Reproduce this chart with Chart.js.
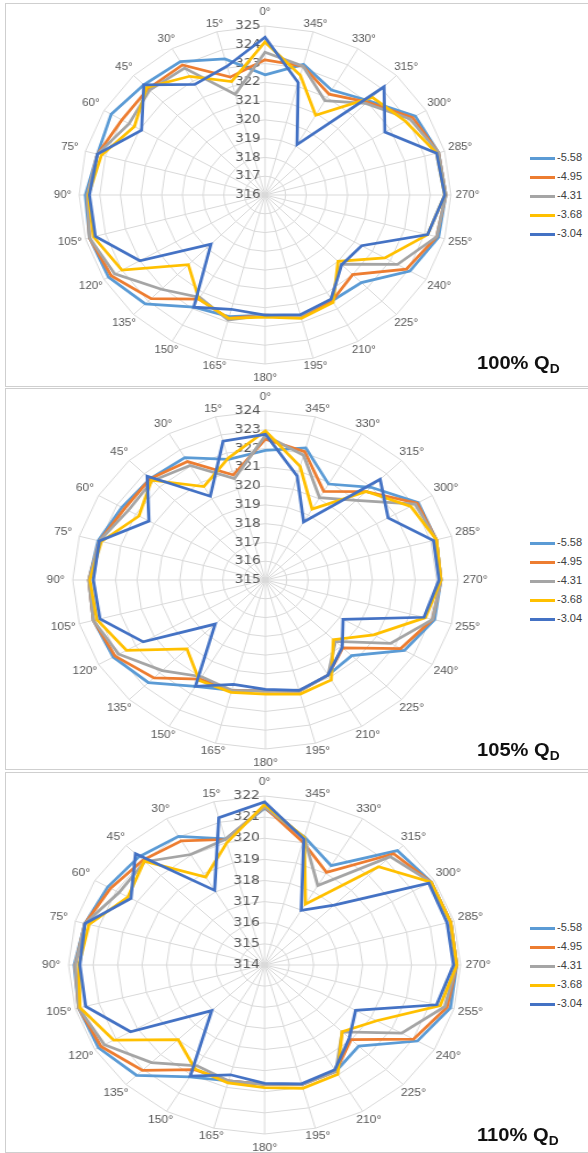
<!DOCTYPE html>
<html>
<head>
<meta charset="utf-8">
<script src="https://cdn.jsdelivr.net/npm/chart.js@4.4.1/dist/chart.umd.min.js"></script>
<style>
  html, body { margin: 0; padding: 0; background: #fff; }
  body { width: 588px; height: 1153px; position: relative; overflow: hidden; font-family: "Liberation Sans", Arial, sans-serif; }
  .panel { position: absolute; left: 5px; width: 600px; border: 1px solid #cfcfcf; box-sizing: border-box; }
  canvas.radar { position: absolute; transform-origin: 0 0; }
  .legend { position: absolute; left: 530px; font-size: 11px; color: #404040; }
  .legend div { height: 19px; line-height: 19px; white-space: nowrap; }
  .legend span.sw { display: inline-block; width: 25px; height: 3px; vertical-align: middle; margin-right: 2px; }
  .qd { position: absolute; left: 477px; font-size: 19px; font-weight: bold; color: #111; white-space: nowrap;
        transform: scaleX(1.06); transform-origin: 0 0; }
  .qd sub { font-size: 13px; vertical-align: -4px; }
</style>
</head>
<body>
<div class="panel" style="top:3px;height:384px"></div>
<div class="panel" style="top:388px;height:382px"></div>
<div class="panel" style="top:772px;height:381px"></div>

<script>
// angle categories, clockwise from the top as the radar draws them
const angleLabels = ['0°', '345°', '330°', '315°', '300°', '285°', '270°', '255°', '240°', '225°', '210°', '195°',
  '180°', '165°', '150°', '135°', '120°', '105°', '90°', '75°', '60°', '45°', '30°', '15°'];

const seriesNames = ['-5.58', '-4.95', '-4.31', '-3.68', '-3.04'];
const seriesColors = ['#5B9BD5', '#ED7D31', '#A5A5A5', '#FFC000', '#4472C4'];

const panelTitles = ['100%', '105%', '110%'];
const scaleMin = [316, 315, 314];
const scaleMax = [325, 324, 322];
const panelCenterY = [195, 580, 965];
const panelStretch = [1.1, 1.14, 1.16];   // the source image is wider than tall

// 100% QD
const q100_558 = [322.4, 323.2, 322.45, 323.1, 324.4, 324.7, 324.75, 324.7, 324.1, 322.6, 322.5, 322.7,
  322.4, 322.7, 322.9, 324.2, 324.75, 324.8, 324.7, 324.4, 324.6, 324.3, 324.2, 323.5];
const q100_495 = [323.2, 323.1, 322.2, 323.0, 324.25, 324.7, 324.75, 324.6, 323.9, 322.0, 322.5, 322.7,
  322.4, 322.8, 322.4, 323.8, 324.6, 324.8, 324.6, 324.4, 324.0, 324.0, 324.0, 322.5];
const q100_431 = [323.6, 323.1, 321.8, 322.9, 324.1, 324.7, 324.75, 324.6, 323.4, 321.2, 322.4, 322.65,
  322.4, 322.9, 322.3, 323.1, 324.4, 324.8, 324.6, 324.4, 323.6, 323.9, 323.8, 321.55];
const q100_368 = [324.15, 322.6, 320.9, 323.35, 323.85, 324.6, 324.7, 324.15, 322.7, 321.0, 322.6, 322.8,
  322.5, 322.8, 322.4, 321.25, 324.0, 324.6, 324.55, 324.2, 323.3, 324.1, 323.3, 322.25];
const q100_304 = [324.4, 322.2, 319.1, 324.15, 322.7, 324.6, 324.7, 324.15, 321.4, 321.25, 322.4, 322.6,
  322.4, 322.3, 322.9, 319.7, 323.0, 324.5, 324.5, 324.4, 322.9, 324.3, 322.8, 323.1];

// 105% QD
const q105_558 = [321.9, 322.28, 320.9, 321.98, 323.24, 323.27, 323.2, 323.18, 322.5, 320.7, 320.85, 321.13,
  320.9, 321.09, 321.54, 322.73, 323.21, 323.32, 323.25, 323.09, 322.74, 322.62, 322.53, 321.65];
const q105_495 = [322.5, 322.08, 320.45, 321.65, 323.18, 323.27, 323.2, 323.09, 322.3, 320.11, 320.85, 321.13,
  320.9, 321.09, 321.1, 322.37, 323.11, 323.32, 323.25, 323.03, 322.6, 322.62, 322.28, 320.79];
const q105_431 = [322.7, 321.88, 320.06, 320.99, 323.08, 323.27, 323.2, 323.09, 321.75, 319.62, 320.85, 321.13,
  320.9, 321.09, 320.95, 321.82, 322.91, 323.32, 323.25, 323.03, 322.4, 322.47, 322.04, 320.59];
const q105_368 = [322.94, 321.26, 319.36, 321.67, 322.84, 323.27, 323.2, 322.74, 320.84, 319.49, 321.15, 321.29,
  321.08, 321.19, 321.18, 320.19, 322.49, 323.15, 323.2, 322.93, 321.82, 322.52, 320.75, 321.72];
const q105_304 = [322.76, 320.73, 318.57, 322.58, 321.62, 323.13, 323.11, 322.67, 319.19, 320.07, 320.85, 321.09,
  320.82, 320.75, 321.54, 318.32, 321.59, 323.0, 323.04, 323.03, 321.28, 322.81, 320.15, 322.65];

// 110% QD
const q110_558 = [321.42, 320.28, 319.43, 321.66, 321.85, 321.86, 321.84, 321.85, 321.2, 319.43, 319.81, 319.86,
  319.65, 319.68, 320.12, 321.39, 321.83, 321.86, 321.77, 321.59, 321.39, 321.25, 321.03, 320.18];
const q110_495 = [321.48, 320.03, 319.06, 321.45, 321.84, 321.86, 321.84, 321.71, 321.02, 318.99, 319.81, 319.86,
  319.65, 319.68, 319.72, 321.05, 321.71, 321.86, 321.73, 321.59, 321.26, 321.02, 320.79, 320.15];
const q110_431 = [321.48, 320.25, 318.34, 321.25, 321.84, 321.86, 321.84, 321.61, 320.46, 318.48, 319.81, 319.86,
  319.65, 319.68, 319.51, 320.53, 321.55, 321.86, 321.73, 321.59, 320.86, 320.92, 320.04, 320.16];
const q110_368 = [321.6, 320.25, 317.33, 320.58, 321.84, 321.86, 321.84, 321.42, 319.28, 318.47, 319.97, 320.04,
  319.8, 319.78, 319.68, 318.99, 321.11, 321.8, 321.58, 321.42, 320.44, 320.95, 318.81, 319.98];
const q110_304 = [321.72, 320.18, 316.99, 318.01, 321.74, 321.71, 321.71, 321.27, 318.29, 318.89, 319.73, 319.82,
  319.6, 319.38, 320.07, 317.05, 320.32, 321.56, 321.54, 321.59, 320.3, 321.45, 318.08, 321.22];

const panelSeries = [
  [q100_558, q100_495, q100_431, q100_368, q100_304],
  [q105_558, q105_495, q105_431, q105_368, q105_304],
  [q110_558, q110_495, q110_431, q110_368, q110_304]
];

const FONT = '"Liberation Sans", Arial, sans-serif';
const CW = 420, CH = 382, PAD = 22;

// tick values drawn right-aligned beside the vertical axis, including the centre value
const tickLabels = {
  id: 'tickLabels',
  beforeDatasetsDraw(chart) {
    const s = chart.scales.r;
    const ctx = chart.ctx;
    ctx.save();
    ctx.font = '12px "DejaVu Sans", sans-serif';
    ctx.fillStyle = '#595959';
    ctx.textAlign = 'right';
    ctx.textBaseline = 'middle';
    s.ticks.forEach(t => {
      const d = s.getDistanceFromCenterForValue(t.value);
      ctx.fillText(t.label, s.xCenter - 4, s.yCenter - d);
    });
    ctx.restore();
  }
};

// angle names centred on a ring just outside the outer grid line (Excel style)
const angleText = {
  id: 'angleText',
  beforeDatasetsDraw(chart) {
    const s = chart.scales.r;
    const ctx = chart.ctx;
    ctx.save();
    ctx.font = '10.5px ' + FONT;
    ctx.fillStyle = '#595959';
    ctx.textAlign = 'center';
    ctx.textBaseline = 'middle';
    chart.data.labels.forEach((lab, i) => {
      const deg = parseInt(lab, 10);
      let off = 6 + 9 * Math.abs(Math.sin(deg * Math.PI / 180));
      if (deg % 180 === 0) off = 14;
      const pos = s.getPointPosition(i, s.drawingArea + off);
      ctx.fillText(lab, pos.x, pos.y);
    });
    ctx.restore();
  }
};

for (let p = 0; p < 3; p++) {
  const cy = panelCenterY[p];
  const k = panelStretch[p];
  const canvas = document.createElement('canvas');
  canvas.className = 'radar';
  canvas.width = CW;
  canvas.height = CH;
  canvas.style.width = CW + 'px';
  canvas.style.height = CH + 'px';
  canvas.style.left = (265 - k * CW / 2) + 'px';
  canvas.style.top = (cy - CH / 2) + 'px';
  canvas.style.transform = 'scaleX(' + k + ')';
  document.body.appendChild(canvas);

  const datasets = panelSeries[p].map((vals, i) => ({
    label: seriesNames[i],
    data: vals,
    borderColor: seriesColors[i],
    backgroundColor: seriesColors[i],
    borderWidth: 2.75,
    pointRadius: 0,
    fill: false,
    order: seriesNames.length - i
  }));

  new Chart(canvas.getContext('2d'), {
    type: 'radar',
    data: { labels: angleLabels, datasets: datasets },
    options: {
      responsive: false,
      animation: false,
      layout: { padding: PAD },
      plugins: { legend: { display: false }, tooltip: { enabled: false } },
      scales: {
        r: {
          min: scaleMin[p],
          max: scaleMax[p],
          ticks: { stepSize: 1, display: false },
          grid: { color: '#d9d9d9', circular: false },
          angleLines: { color: '#d9d9d9' },
          pointLabels: { display: false }
        }
      }
    },
    plugins: [tickLabels, angleText]
  });

  const legend = document.createElement('div');
  legend.className = 'legend';
  legend.style.top = (cy - 47) + 'px';
  legend.innerHTML = seriesNames.map((n, i) =>
    '<div><span class="sw" style="background:' + seriesColors[i] + '"></span>' + n + '</div>').join('');
  document.body.appendChild(legend);

  const title = document.createElement('div');
  title.className = 'qd';
  title.style.top = (cy + (p === 0 ? 157 : 159)) + 'px';
  title.innerHTML = panelTitles[p] + ' Q<sub>D</sub>';
  document.body.appendChild(title);
}
</script>
</body>
</html>
